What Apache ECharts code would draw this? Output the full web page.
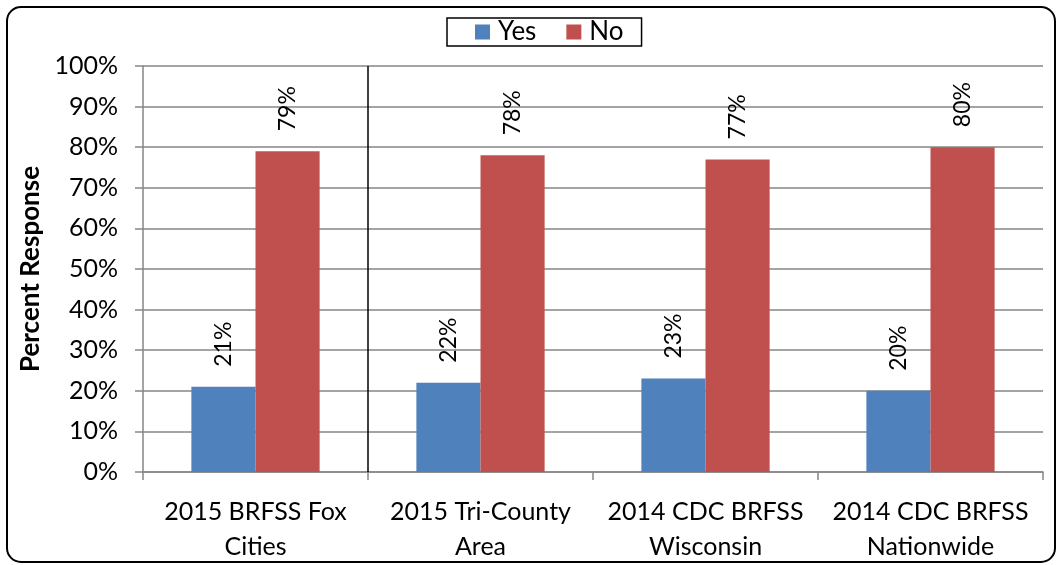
<!DOCTYPE html>
<html><head><meta charset="utf-8">
<script src="https://cdn.jsdelivr.net/npm/echarts@6/dist/echarts.min.js"></script>
<style>html,body{margin:0;padding:0;background:#fff}#c{width:1061px;height:565px}</style>
</head><body><div id="c"></div>
<script>
const categories = ['2015 BRFSS Fox\nCities', '2015 Tri-County\nArea', '2014 CDC BRFSS\nWisconsin', '2014 CDC BRFSS\nNationwide'];
const yesValues = [21, 22, 23, 20];
const noValues = [79, 78, 77, 80];
const seriesNames = ['Yes', 'No'];
const yTickLabels = ['0%','10%','20%','30%','40%','50%','60%','70%','80%','90%','100%'];
const separatorAt = [1];

const FONT = 'Lato';
const chart = echarts.init(document.getElementById('c'));
const labelCfg = {
  show: true, position: 'top', rotate: 90, distance: 20,
  align: 'left', verticalAlign: 'middle',
  formatter: p => p.value + '%', fontSize: 23, color: '#000', fontFamily: FONT
};
chart.setOption({
  animation: false,
  textStyle: { fontFamily: FONT },
  graphic: [{
    type: 'rect', left: 6, top: 6, z: -1,
    shape: { width: 1048, height: 555, r: 14 },
    style: { fill: '#fff', stroke: '#000', lineWidth: 2 }
  }],
  legend: {
    top: 18, left: 447, data: seriesNames,
    borderColor: '#000', borderWidth: 1.5, backgroundColor: '#fff',
    padding: [1, 18, 1, 28], itemGap: 30, itemWidth: 15, itemHeight: 15,
    textStyle: { fontSize: 26, lineHeight: 26, color: '#000', fontFamily: FONT, padding: [0, 0, 0, 3] },
    icon: 'rect'
  },
  grid: { left: 143, right: 18, top: 66, bottom: 93, containLabel: false },
  xAxis: [{
    type: 'category', data: categories,
    axisLine: { lineStyle: { color: '#868686', width: 1.5 } },
    axisTick: { show: true, length: 8, lineStyle: { color: '#868686', width: 1.5 } },
    axisLabel: { color: '#000', fontSize: 25, lineHeight: 35, margin: 22, fontFamily: FONT, interval: 0 }
  }, {
    type: 'value', min: 0, max: 4, show: false
  }],
  yAxis: {
    type: 'value', min: 0, max: 100, interval: 10,
    name: 'Percent Response', nameLocation: 'middle', nameGap: 96, nameRotate: 90,
    nameTextStyle: { fontSize: 26, fontWeight: 'bold', color: '#000', fontFamily: FONT },
    axisLine: { show: true, lineStyle: { color: '#868686', width: 1.5 } },
    axisTick: { show: true, length: 8, lineStyle: { color: '#868686', width: 1.5 } },
    splitLine: { lineStyle: { color: '#868686', width: 1.5 } },
    axisLabel: { color: '#000', fontSize: 25, margin: 25, fontFamily: FONT,
      formatter: v => yTickLabels[Math.round(v / 10)] }
  },
  series: [{
    name: seriesNames[0], type: 'bar', data: yesValues,
    itemStyle: { color: '#4F81BD' }, barGap: '0%', barCategoryGap: '43%',
    label: labelCfg
  }, {
    name: seriesNames[1], type: 'bar', data: noValues,
    itemStyle: { color: '#C0504D' }, barGap: '0%', barCategoryGap: '43%',
    label: labelCfg
  }, {
    type: 'scatter', xAxisIndex: 1, data: [], silent: true,
    markLine: {
      symbol: 'none', silent: true, label: { show: false },
      lineStyle: { color: '#000', type: 'solid', width: 1.5 },
      data: separatorAt.map(v => ({ xAxis: v }))
    }
  }]
});
</script></body></html>
